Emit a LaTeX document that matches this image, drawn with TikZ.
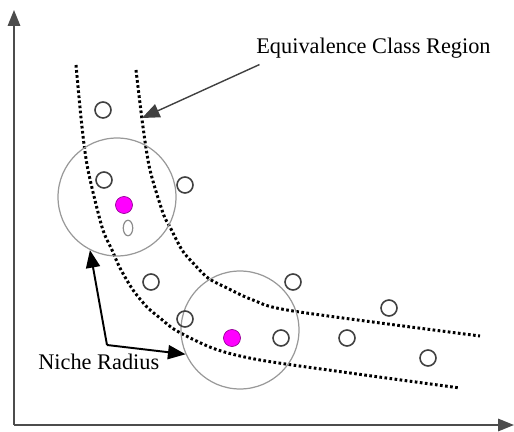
\documentclass[tikz,border=0pt]{standalone}
\usepackage{fontspec}
\setmainfont{Liberation Serif}
\usetikzlibrary{positioning, arrows.meta, shapes.geometric}
\definecolor{peakfill}{RGB}{255,0,255}
\definecolor{peakline}{RGB}{150,0,150}
\tikzset{
    sample/.style={circle, draw=black!75, line width=0.9pt, minimum size=0.32cm, inner sep=0pt},
    seed/.style={circle, fill=peakfill, draw=peakline, line width=0.4pt, minimum size=0.34cm, inner sep=0pt},
    niche/.style={circle, draw=black!40, line width=0.7pt, inner sep=0pt},
    border/.style={line width=1.7pt, draw=black, dash pattern=on 1.5pt off 1.4pt},
    pointer/.style={-{Triangle[length=10pt,width=8pt]}, line width=1.1pt},
    label/.style={font=\fontsize{12.7}{15}\selectfont, inner sep=0pt}
}

\begin{document}
\begin{tikzpicture}[x=0.02cm, y=-0.02cm]
        \useasboundingbox (0,0) rectangle (514,432);

        % ==========================================
        % Axes
        % ==========================================
        \draw[-{Triangle[length=9pt,width=7pt]}, line width=1.1pt, black!70] (14,425) -- (14,10);
        \draw[-{Triangle[length=9pt,width=7pt]}, line width=1.1pt, black!70] (14,425) -- (514,425);

        % ==========================================
        % Equivalence class region (dotted borders)
        % ==========================================
        % Outer border
        \draw[border] plot[smooth, tension=0.5] coordinates
            {(76,65) (82,127) (88,170) (102,227) (112,250) (120,268) (133,290) (147,307) (160,318)
             (177,331) (215,349) (260,360) (350,373) (460,388)};
        % Inner border
        \draw[border] plot[smooth, tension=0.5] coordinates
            {(136,70) (143,127) (150,170) (163,213) (170,227) (182,250) (193,263) (208,278)
             (227,288) (253,300) (293,311) (480,336)};

        % ==========================================
        % Niches
        % ==========================================
        \node[niche, minimum size=2.36cm] (niche1) at (117,197) {};
        \node[niche, minimum size=2.36cm] (niche2) at (240,330) {};

        \node[seed] (peak1) at (124,205) {};
        \node[seed] (peak2) at (232,338) {};

        % ==========================================
        % Samples
        % ==========================================
        \node[sample] (s1) at (103,110) {};
        \node[sample] (s2) at (104,180) {};
        \node[sample] (s3) at (185,185) {};
        \node[sample] (s4) at (151,282) {};
        \node[sample] (s5) at (185,319) {};
        \node[sample] (s6) at (293,282) {};
        \node[sample] (s7) at (389,308) {};
        \node[sample] (s8) at (281,338) {};
        \node[sample] (s9) at (347,338) {};
        \node[sample] (s10) at (428,358) {};
        \node[ellipse, draw=black!45, line width=0.7pt, minimum width=0.19cm, minimum height=0.31cm, inner sep=0pt] (s11) at (128,228) {};

        % ==========================================
        % Labels and pointers
        % ==========================================
        \node[label, anchor=base west] (eqlabel) at (256,54) {Equivalence Class Region};
        \coordinate (eqtip) at (142,118);
        \draw[pointer, black!75, line width=0.8pt] ([xshift=2pt,yshift=-6pt]eqlabel.base west) -- (eqtip);

        \node[label, anchor=base west] (nichelabel) at (38,369) {Niche Radius};
        \coordinate (bend) at (107,345);
        \draw[pointer] (bend) -- (niche1.243);
        \draw[pointer] (bend) -- (niche2.204);

    \end{tikzpicture}
\end{document}
